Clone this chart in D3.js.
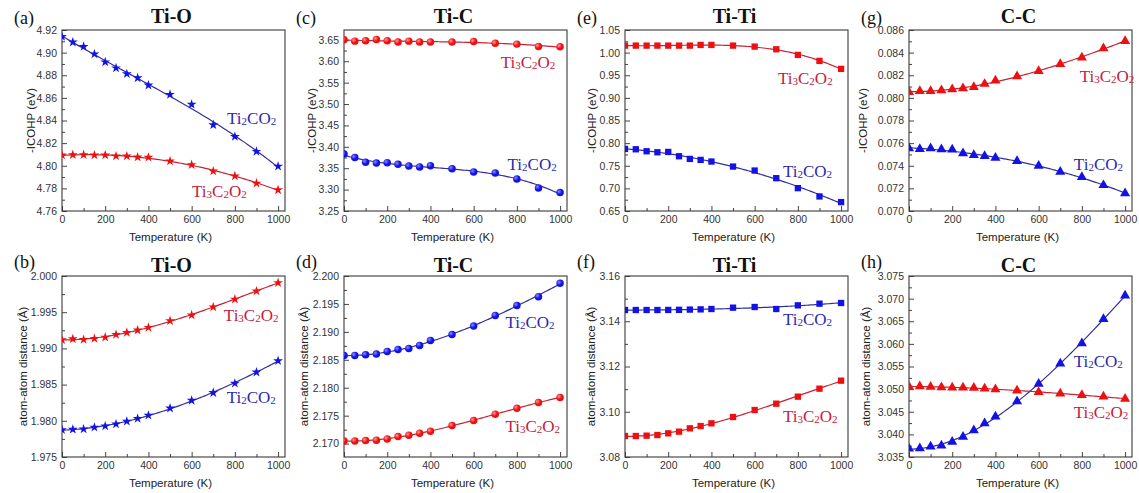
<!DOCTYPE html>
<html><head><meta charset="utf-8">
<script src="https://cdn.jsdelivr.net/npm/d3@7"></script>
<style>body{margin:0;background:#fff}</style>
</head><body>
<svg id="chart" width="1139" height="493"></svg>
<script>
// ---------- data ----------
const temperatures = [0,50,100,150,200,250,300,350,400,500,600,700,800,900,1000];
const xTickValues = [0,200,400,600,800,1000];

// (a) Ti-O  -ICOHP
const tiO_icohp_Ti2CO2  = [4.9142,4.9092,4.9054,4.8987,4.8917,4.8864,4.8812,4.8776,4.8712,4.8630,4.8542,4.8361,4.8258,4.8126,4.7995];
const tiO_icohp_Ti3C2O2 = [4.8094,4.8097,4.8097,4.8094,4.8094,4.8085,4.8085,4.8076,4.8074,4.8041,4.8009,4.7953,4.7909,4.7845,4.7786];
// (c) Ti-C  -ICOHP
const tiC_icohp_Ti3C2O2 = [3.650,3.647,3.648,3.651,3.648,3.645,3.647,3.645,3.645,3.645,3.646,3.642,3.640,3.6345,3.634];
const tiC_icohp_Ti2CO2  = [3.383,3.375,3.364,3.362,3.363,3.359,3.355,3.353,3.356,3.349,3.341,3.339,3.325,3.304,3.293];
// (e) Ti-Ti -ICOHP
const tiTi_icohp_Ti3C2O2 = [1.0155,1.0155,1.0155,1.0155,1.0155,1.0155,1.0155,1.017,1.017,1.0155,1.0133,1.0074,0.9949,0.9817,0.9641];
const tiTi_icohp_Ti2CO2  = [0.7872,0.7864,0.7820,0.7798,0.7805,0.7710,0.7651,0.7629,0.7593,0.7482,0.7394,0.7225,0.7005,0.6822,0.6697];
// (g) C-C -ICOHP
const cC_icohp_Ti3C2O2 = [0.08052,0.08061,0.08061,0.08067,0.08076,0.08084,0.08096,0.08123,0.08153,0.08191,0.08236,0.08298,0.08357,0.08437,0.08502];
const cC_icohp_Ti2CO2  = [0.07554,0.07548,0.07554,0.07545,0.07542,0.07510,0.07495,0.07486,0.07471,0.07441,0.07400,0.07347,0.07299,0.07228,0.07157];
// (b) Ti-O distance
const tiO_dist_Ti3C2O2 = [1.99117,1.99131,1.99122,1.99136,1.99154,1.99191,1.99219,1.99252,1.99289,1.99382,1.99461,1.99572,1.99679,1.99791,1.99907];
const tiO_dist_Ti2CO2  = [1.97876,1.97881,1.97886,1.97909,1.97927,1.97955,1.97993,1.98030,1.98076,1.98174,1.98281,1.98388,1.98518,1.98671,1.98829];
// (d) Ti-C distance
const tiC_dist_Ti2CO2  = [2.18578,2.18578,2.18590,2.18602,2.18650,2.18685,2.18703,2.18757,2.18847,2.18954,2.19104,2.19295,2.19474,2.19629,2.19869];
const tiC_dist_Ti3C2O2 = [2.17048,2.17048,2.17054,2.17060,2.17084,2.17126,2.17150,2.17185,2.17221,2.17323,2.17412,2.17526,2.17633,2.17735,2.17825];
// (f) Ti-Ti distance
const tiTi_dist_Ti2CO2  = [3.14497,3.14497,3.14497,3.14497,3.14500,3.14505,3.14515,3.14525,3.14541,3.14600,3.14630,3.14541,3.14703,3.14777,3.14807];
const tiTi_dist_Ti3C2O2 = [3.08928,3.08928,3.08943,3.08972,3.09046,3.09120,3.09267,3.09370,3.09488,3.09768,3.10077,3.10357,3.10667,3.11020,3.11374];
// (h) C-C distance
const cC_dist_Ti2CO2  = [3.03686,3.03693,3.03730,3.03753,3.03835,3.03947,3.04088,3.04245,3.04394,3.04729,3.05116,3.05563,3.06010,3.06547,3.07068];
const cC_dist_Ti3C2O2 = [3.05057,3.05064,3.05049,3.05042,3.05034,3.05034,3.05027,3.05012,3.04997,3.04967,3.04937,3.04900,3.04870,3.04833,3.04788];

// tick labels
const yTicks_a = [4.76,4.78,4.80,4.82,4.84,4.86,4.88,4.90,4.92];
const yTicks_c = [3.25,3.30,3.35,3.40,3.45,3.50,3.55,3.60,3.65];
const yTicks_e = [0.65,0.70,0.75,0.80,0.85,0.90,0.95,1.00,1.05];
const yTicks_g = [0.070,0.072,0.074,0.076,0.078,0.080,0.082,0.084,0.086];
const yTicks_b = [1.975,1.980,1.985,1.990,1.995,2.000];
const yTicks_d = [2.170,2.175,2.180,2.185,2.190,2.195,2.200];
const yTicks_f = [3.08,3.10,3.12,3.14,3.16];
const yTicks_h = [3.035,3.040,3.045,3.050,3.055,3.060,3.065,3.070,3.075];

const panelLabels = ['(a)','(c)','(e)','(g)','(b)','(d)','(f)','(h)'];
const panelTitles = ['Ti-O','Ti-C','Ti-Ti','C-C','Ti-O','Ti-C','Ti-Ti','C-C'];
const yTitleTop = '-ICOHP (eV)';
const yTitleBottom = 'atom-atom distance (Å)';
const xTitle = 'Temperature (K)';
// series names: [text, isSubscript] pieces
const nameTi2CO2  = [['Ti',0],['2',1],['CO',0],['2',1]];
const nameTi3C2O2 = [['Ti',0],['3',1],['C',0],['2',1],['O',0],['2',1]];

// ---------- layout / style ----------
const colLeft = [62, 344, 625, 909];
const rowTop = [30, 276];
const plotW = 223, plotH = 181;
const xMax = 1032;
const BLUE_M = '#1212e8', BLUE_L = '#30309a', BLUE_T = '#2a2ab0';
const RED_M = '#ee1010', RED_L = '#c82232', RED_T = '#c42040';
const SERIF = '"Liberation Serif","Times New Roman",serif';
const SANS = '"Liberation Sans",Arial,sans-serif';

const panels = [
  {col:0,row:0, dom:[4.76,4.92], ticks:yTicks_a, fmt:'.2f', sym:d3.symbolStar, size:30, ytOff:30,
   series:[{v:tiO_icohp_Ti2CO2, c:'b', name:nameTi2CO2, lab:[764,4.842]},{v:tiO_icohp_Ti3C2O2, c:'r', name:nameTi3C2O2, lab:[602,4.778]}]},
  {col:1,row:0, dom:[3.25,3.673], ticks:yTicks_c, fmt:'.2f', sym:d3.symbolCircle, size:44, ytOff:31,
   series:[{v:tiC_icohp_Ti3C2O2, c:'r', name:nameTi3C2O2, lab:[725,3.599]},{v:tiC_icohp_Ti2CO2, c:'b', name:nameTi2CO2, lab:[757,3.359]}]},
  {col:2,row:0, dom:[0.65,1.05], ticks:yTicks_e, fmt:'.2f', sym:d3.symbolSquare, size:40, ytOff:32,
   series:[{v:tiTi_icohp_Ti3C2O2, c:'r', name:nameTi3C2O2, lab:[708,0.944]},{v:tiTi_icohp_Ti2CO2, c:'b', name:nameTi2CO2, lab:[731,0.739]}]},
  {col:3,row:0, dom:[0.070,0.086], ticks:yTicks_g, fmt:'.3f', sym:d3.symbolTriangle, size:44, ytOff:45,
   series:[{v:cC_icohp_Ti3C2O2, c:'r', name:nameTi3C2O2, lab:[790,0.08197]},{v:cC_icohp_Ti2CO2, c:'b', name:nameTi2CO2, lab:[763,0.07415]}]},
  {col:0,row:1, dom:[1.975,2.000], ticks:yTicks_b, fmt:'.3f', sym:d3.symbolStar, size:30, ytOff:38,
   series:[{v:tiO_dist_Ti3C2O2, c:'r', name:nameTi3C2O2, lab:[749,1.99461]},{v:tiO_dist_Ti2CO2, c:'b', name:nameTi2CO2, lab:[762,1.98332]}]},
  {col:1,row:1, dom:[2.1676,2.200], ticks:yTicks_d, fmt:'.3f', sym:d3.symbolCircle, size:44, ytOff:39,
   series:[{v:tiC_dist_Ti2CO2, c:'b', name:nameTi2CO2, lab:[747,2.1917]},{v:tiC_dist_Ti3C2O2, c:'r', name:nameTi3C2O2, lab:[747,2.17323]}]},
  {col:2,row:1, dom:[3.08,3.16], ticks:yTicks_f, fmt:'.2f', sym:d3.symbolSquare, size:40, ytOff:33,
   series:[{v:tiTi_dist_Ti2CO2, c:'b', name:nameTi2CO2, lab:[731,3.1409]},{v:tiTi_dist_Ti3C2O2, c:'r', name:nameTi3C2O2, lab:[731,3.098]}]},
  {col:3,row:1, dom:[3.035,3.075], ticks:yTicks_h, fmt:'.3f', sym:d3.symbolTriangle, size:44, ytOff:42,
   series:[{v:cC_dist_Ti2CO2, c:'b', name:nameTi2CO2, lab:[762,3.0563]},{v:cC_dist_Ti3C2O2, c:'r', name:nameTi3C2O2, lab:[762,3.0449]}]}
];

// least-squares polynomial trend line (as in the original fitted curves)
function polyfit(xs, ys, deg){
  const n = deg+1;
  const A = Array.from({length:n},()=>Array(n+1).fill(0));
  xs.forEach((x,i)=>{
    const t = x/1000;
    for(let r=0;r<n;r++){
      for(let c=0;c<n;c++) A[r][c] += Math.pow(t,r+c);
      A[r][n] += ys[i]*Math.pow(t,r);
    }
  });
  for(let i=0;i<n;i++){
    let p=i; for(let k=i+1;k<n;k++) if(Math.abs(A[k][i])>Math.abs(A[p][i])) p=k;
    [A[i],A[p]]=[A[p],A[i]];
    for(let k=i+1;k<n;k++){ const f=A[k][i]/A[i][i]; for(let j=i;j<=n;j++) A[k][j]-=f*A[i][j]; }
  }
  const co=Array(n).fill(0);
  for(let i=n-1;i>=0;i--){ let s=A[i][n]; for(let j=i+1;j<n;j++) s-=A[i][j]*co[j]; co[i]=s/A[i][i]; }
  return x=>{ const t=x/1000; return co.reduce((s,c,k)=>s+c*Math.pow(t,k),0); };
}

const svg = d3.select('#chart');
const defs = svg.append('defs');
[['gb',BLUE_M,'#8a8aff'],['gr',RED_M,'#ff9a9a']].forEach(([id,c,h])=>{
  const g = defs.append('radialGradient').attr('id',id).attr('cx','35%').attr('cy','35%').attr('r','65%');
  g.append('stop').attr('offset','0%').attr('stop-color',h);
  g.append('stop').attr('offset','60%').attr('stop-color',c);
  g.append('stop').attr('offset','100%').attr('stop-color',c);
});

panels.forEach((p,i)=>{
  const left = colLeft[p.col], top = rowTop[p.row];
  const g = svg.append('g').attr('transform',`translate(${left},${top})`);
  const x = d3.scaleLinear().domain([0,xMax]).range([0,plotW]);
  const y = d3.scaleLinear().domain(p.dom).range([plotH,0]);

  // axes with inward ticks
  const step = p.ticks[1]-p.ticks[0];
  const yMinor = [];
  p.ticks.forEach(t=>{ const m=t+step/2; if(m<p.dom[1]) yMinor.push(m); });
  if(p.ticks[0]-step/2>p.dom[0]) yMinor.push(p.ticks[0]-step/2);
  const xMinor = [100,300,500,700,900];

  g.append('g').call(d3.axisLeft(y).tickValues(p.ticks).tickFormat(d3.format(p.fmt)).tickSizeInner(-5).tickSizeOuter(0).tickPadding(5));
  g.append('g').call(d3.axisLeft(y).tickValues(yMinor).tickFormat('').tickSizeInner(-3).tickSizeOuter(0));
  g.append('g').attr('transform',`translate(0,${plotH})`)
    .call(d3.axisBottom(x).tickValues(xTickValues).tickFormat(d3.format('d')).tickSizeInner(-5).tickSizeOuter(0).tickPadding(5));
  g.append('g').attr('transform',`translate(0,${plotH})`)
    .call(d3.axisBottom(x).tickValues(xMinor).tickFormat('').tickSizeInner(-3).tickSizeOuter(0));
  g.selectAll('.domain').remove();
  g.selectAll('.tick line').attr('stroke','#444');
  g.selectAll('.tick text').attr('font-family',SANS).attr('font-size','10.5px').attr('fill','#333');

  // frame
  g.append('rect').attr('x',0).attr('y',0).attr('width',plotW).attr('height',plotH)
    .attr('fill','none').attr('stroke','#3a3a3a').attr('stroke-width',1.1);

  const clip = 'clip'+i;
  defs.append('clipPath').attr('id',clip).append('rect').attr('x',0).attr('y',0).attr('width',plotW).attr('height',plotH);
  const inner = g.append('g').attr('clip-path',`url(#${clip})`);

  p.series.forEach(s=>{
    const fit = polyfit(temperatures, s.v, 3);
    const pts = d3.range(0,1000.01,10);
    inner.append('path').datum(pts)
      .attr('d', d3.line().x(t=>x(t)).y(t=>y(fit(t))))
      .attr('fill','none').attr('stroke', s.c==='b'?BLUE_L:RED_L).attr('stroke-width',1.2);
    const sym = d3.symbol().type(p.sym).size(p.size);
    const fill = p.sym===d3.symbolCircle ? (s.c==='b'?'url(#gb)':'url(#gr)') : (s.c==='b'?BLUE_M:RED_M);
    inner.selectAll(null).data(temperatures.map((t,k)=>[t,s.v[k]])).enter().append('path')
      .attr('d', sym)
      .attr('transform', d=>`translate(${x(d[0])},${y(d[1])})`)
      .attr('fill', fill);
    // series label
    const txt = g.append('text').attr('x',x(s.lab[0])).attr('y',y(s.lab[1])+6)
      .attr('font-family',SERIF).attr('font-size','17px').attr('fill', s.c==='b'?BLUE_T:RED_T);
    let shifted = false;
    s.name.forEach(([t,sub])=>{
      const ts = txt.append('tspan').text(t);
      if(sub && !shifted){ ts.attr('font-size','11px').attr('dy',1); shifted=true; }
      else if(!sub && shifted){ ts.attr('dy',-1); shifted=false; }
      else if(sub){ ts.attr('font-size','11px'); }
    });
  });

  // titles & labels
  g.append('text').attr('x',plotW/2-2).attr('y', p.row===0?-7:-4).attr('text-anchor','middle')
    .attr('font-family',SERIF).attr('font-weight','bold').attr('font-size','20px').attr('fill','#111')
    .text(panelTitles[i]);
  g.append('text').attr('x',-48).attr('y', p.row===0?-6:-8)
    .attr('font-family',SERIF).attr('font-size','18px').attr('fill','#111')
    .text(panelLabels[i]);
  g.append('text').attr('x',plotW/2-3).attr('y',plotH+30).attr('text-anchor','middle')
    .attr('font-family',SANS).attr('font-size','11.5px').attr('fill','#222').text(xTitle);
  g.append('text').attr('transform',`translate(${-p.ytOff},${plotH/2}) rotate(-90)`)
    .attr('text-anchor','middle').attr('dominant-baseline','middle')
    .attr('font-family',SANS).attr('font-size','11.5px').attr('fill','#222')
    .text(p.row===0?yTitleTop:yTitleBottom);
});
</script>
</body></html>
